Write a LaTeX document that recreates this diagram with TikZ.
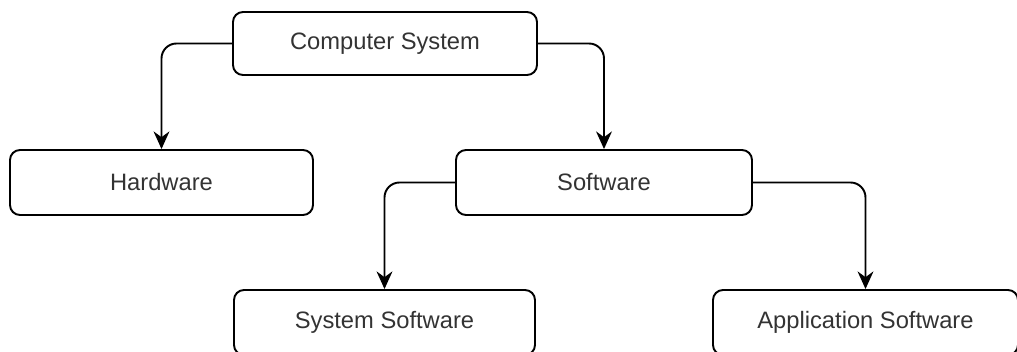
\documentclass[tikz,border=0pt]{standalone}
\usepackage{fontspec}
\setmainfont{Liberation Sans}
\usetikzlibrary{arrows.meta}
\begin{document}
\begin{tikzpicture}
\tikzset{
  box/.style={draw,line width=1.1pt,rounded corners=0.2cm,minimum height=1.3cm,
    text=black!80,font=\fontsize{13.5}{16}\selectfont,inner sep=0pt},
  link/.style={draw,line width=1.1pt,rounded corners=0.3cm,-{Stealth[length=10pt,width=9pt]}},
}
\useasboundingbox (0,0) rectangle (20.34,7.04);

%% Top
\node[box,minimum width=6.08cm,minimum height=1.26cm] (cs) at (7.70,6.17) {Computer System};

%% Middle
\node[box,minimum width=6.06cm] (hw) at (3.23,3.39) {Hardware};
\node[box,minimum width=5.92cm] (sw) at (12.08,3.39) {Software};

%% Bottom
\node[box,minimum width=6.02cm] (ss) at (7.69,0.59) {System Software};
\node[box,minimum width=6.10cm] (as) at (17.31,0.59) {Application Software};

%% Links
\draw[link] (cs.west) -| (hw.north);
\draw[link] (cs.east) -| (sw.north);
\draw[link] (sw.west) -| (ss.north);
\draw[link] (sw.east) -| (as.north);
\end{tikzpicture}
\end{document}
